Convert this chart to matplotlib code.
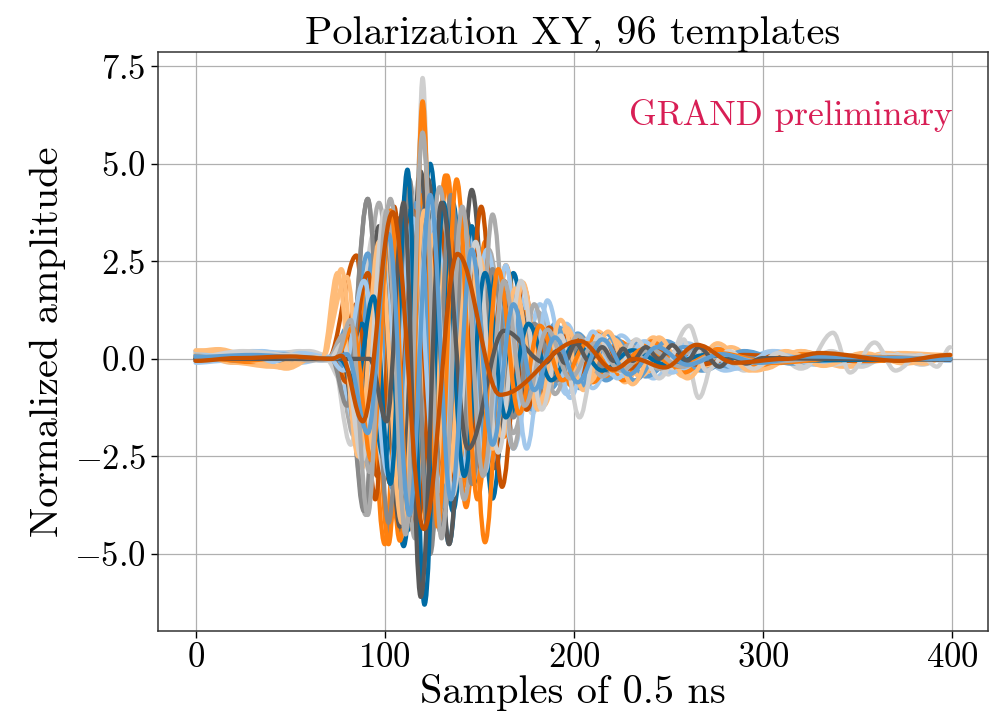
import matplotlib
matplotlib.use("Agg")
import matplotlib.pyplot as plt
from matplotlib.path import Path
from matplotlib.patches import PathPatch

plt.rcParams.update({
    "font.family": "serif",
    "font.serif": ["cmr10"],
    "mathtext.fontset": "cm",
    "axes.formatter.use_mathtext": True,
    "axes.unicode_minus": True,
})

colors = ["#006BA4", "#FF800E", "#ABABAB", "#595959", "#5F9ED1",
          "#C85200", "#898989", "#A2C8EC", "#FFBC79", "#CFCFCF"]

title = "Polarization XY, 96 templates"
xlabel = "Samples of 0.5 ns"
ylabel = "Normalized amplitude"
watermark = "GRAND preliminary"
xticks = [0, 100, 200, 300, 400]
yticks = [-5.0, -2.5, 0.0, 2.5, 5.0, 7.5]

# (sample, amplitude) turning points, one list per template
tpl_00 = [(0,0.02),(30,-0.04),(60,0.03),(78,0),(88,-1.2),(100,2.8),(112,-4.4),(124,5.0),(136,-3.9),(148,2.6),(160,-1.6),(172,0.9),(185,-0.7),(199,0.6),(214,-0.5),(232,0.35),(255,-0.2),(285,0.1),(340,0),(399,0.02)]
tpl_01 = [(0,0.08),(20,0.1),(45,-0.06),(70,0.02),(78,-0.3),(89,2.0),(100,-4.75),(111,4.2),(122,-3.6),(133,4.7),(144,-3.3),(155,2.2),(166,-1.3),(178,0.8),(190,-0.6),(203,0.6),(217,-0.5),(232,0.45),(250,-0.35),(270,0.25),(300,-0.12),(350,0.06),(399,0)]
tpl_02 = [(0,0),(35,0.06),(65,-0.03),(74,0),(84,-2.0),(97,4.0),(110,-4.3),(123,3.8),(136,-3.0),(149,2.2),(162,-1.4),(175,0.8),(189,-0.5),(204,0.35),(220,-0.25),(240,0.15),(265,-0.1),(300,0.05),(399,0)]
tpl_03 = [(0,0),(88,0),(94,0.4),(104,-2.4),(117,4.2),(130,-4.4),(143,3.6),(156,-2.4),(169,1.4),(182,-0.8),(196,0.45),(211,-0.3),(228,0.2),(250,-0.1),(280,0.05),(399,0)]
tpl_04 = [(0,-0.05),(25,0.12),(50,0.05),(72,0),(80,0.8),(91,-2.6),(103,3.8),(115,-4.4),(127,3.9),(139,-3.0),(151,2.2),(163,-1.5),(175,0.9),(188,-0.75),(202,0.65),(217,-0.55),(234,0.4),(255,-0.3),(285,0.15),(330,-0.08),(399,0.03)]
tpl_05 = [(0,0),(40,0.03),(70,0),(85,2.65),(95,-3.6),(105,3.9),(115,-4.4),(125,4.0),(135,-3.4),(145,2.8),(155,-2.0),(166,1.3),(177,-0.8),(189,0.5),(202,-0.35),(216,0.3),(232,-0.2),(252,0.15),(280,-0.1),(320,0.05),(399,0)]
tpl_06 = [(0,0.03),(30,-0.08),(60,0.04),(72,0),(80,-1.0),(91,4.1),(102,-4.5),(113,4.6),(124,-4.8),(135,3.5),(146,-2.3),(157,1.4),(168,-0.8),(180,0.55),(193,-0.4),(207,0.3),(223,-0.2),(242,0.15),(265,-0.1),(300,0.06),(399,0)]
tpl_07 = [(0,0.15),(15,0.1),(35,0.2),(55,-0.1),(72,0.05),(80,-0.6),(92,1.6),(105,-2.8),(118,3.8),(131,-3.6),(144,3.2),(157,-2.6),(170,1.8),(183,-1.2),(196,0.9),(210,-0.75),(225,0.6),(242,-0.5),(260,0.4),(280,-0.3),(305,0.2),(335,-0.15),(365,0.1),(399,-0.05)]
tpl_08 = [(0,0.2),(12,0.25),(30,0.05),(48,-0.25),(65,0.1),(68,0.08),(77,2.3),(88,-2.8),(99,3.4),(110,-3.9),(121,3.2),(132,-3.0),(143,2.5),(154,-2.0),(165,1.5),(176,-1.1),(188,0.8),(200,-0.75),(213,0.7),(227,-0.6),(242,0.55),(258,-0.45),(276,0.35),(296,-0.3),(320,0.2),(346,-0.2),(372,0.15),(399,0.1)]
tpl_09 = [(0,0.1),(20,-0.1),(40,0.15),(60,0.2),(72,0.05),(82,-2.2),(94,3.2),(106,-4.0),(118,4.6),(130,-4.0),(142,3.3),(154,-2.6),(166,2.0),(178,-1.4),(190,0.9),(202,-0.7),(214,0.6),(226,-0.5),(238,0.45),(250,-0.4),(258,0.5),(266,-1.0),(276,0.3),(290,-0.3),(305,0.2),(320,-0.25),(336,0.2),(352,-0.2),(368,0.15),(384,-0.15),(399,0.1)]
tpl_10 = [(0,0),(50,0.03),(76,0),(86,-0.9),(98,2.6),(110,-4.8),(122,4.6),(134,-4.74),(146,3.4),(157,-3.58),(168,2.2),(179,-1.3),(190,0.8),(202,-0.55),(215,0.4),(229,-0.3),(245,0.2),(262,-0.15),(285,0.1),(320,-0.05),(399,0)]
tpl_11 = [(0,-0.05),(30,0.05),(60,-0.03),(76,0),(84,-0.8),(92,2.2),(102,-4.75),(112,4.4),(122,-4.2),(132,4.7),(143,-3.8),(153,3.0),(163,-2.0),(174,1.2),(185,-0.7),(197,0.65),(210,-0.6),(224,0.45),(240,-0.3),(260,0.15),(290,-0.1),(340,0.05),(399,0)]
tpl_12 = [(0,0.05),(40,-0.05),(70,0),(78,0.6),(90,-4.0),(103,4.1),(116,-4.6),(129,4.4),(142,-3.6),(155,2.8),(168,-1.9),(181,1.2),(194,-0.7),(208,0.45),(224,-0.3),(242,0.2),(264,-0.12),(295,0.06),(399,0)]
tpl_13 = [(0,0),(80,0),(90,-1.0),(101,3.0),(112,-4.2),(123,4.6),(134,-4.75),(146,4.33),(158,-2.8),(170,1.5),(182,-0.9),(195,0.6),(209,-0.45),(224,0.35),(241,-0.25),(260,0.15),(285,-0.1),(320,0.05),(399,0)]
tpl_14 = [(0,0.1),(20,0.15),(40,-0.05),(60,0.08),(74,0),(83,-1.2),(95,2.8),(107,-3.8),(119,4.4),(131,-4.0),(143,3.2),(155,-2.4),(167,1.6),(179,-1.1),(192,0.8),(206,-0.7),(221,0.55),(238,-0.45),(258,0.3),(282,-0.2),(310,0.12),(350,-0.06),(399,0)]
tpl_15 = [(0,0),(70,0),(76,-0.2),(85,1.4),(96,-3.0),(107,3.6),(118,-4.0),(129,3.4),(140,-3.0),(151,3.9),(162,-3.28),(173,1.9),(184,-1.0),(196,0.6),(209,-0.4),(223,0.3),(240,-0.2),(260,0.12),(290,-0.08),(399,0)]
tpl_16 = [(0,-0.05),(30,0.05),(60,0),(72,0),(79,0.5),(89,-3.9),(100,3.6),(111,-3.9),(120,6.2),(129,-4.3),(140,3.2),(151,-2.4),(162,1.5),(174,-0.9),(186,0.55),(199,-0.4),(213,0.3),(229,-0.22),(247,0.15),(268,-0.1),(295,0.06),(340,-0.03),(399,0)]
tpl_17 = [(0,-0.1),(15,-0.05),(30,0.2),(50,0.15),(68,-0.05),(74,0.1),(84,-1.6),(98,2.6),(112,-3.4),(126,3.6),(140,-3.0),(154,2.8),(168,-2.3),(182,1.4),(196,-0.9),(210,0.6),(225,-0.45),(241,0.35),(258,-0.3),(276,0.25),(296,-0.2),(320,0.15),(350,-0.1),(380,0.08),(399,0)]
tpl_18 = [(0,0.15),(20,-0.1),(40,-0.2),(58,0.05),(66,0.0),(80,2.1),(90,-2.6),(102,3.4),(114,-3.6),(126,3.2),(138,-3.0),(150,2.6),(162,-2.0),(173,1.96),(184,-1.2),(196,0.8),(208,-0.6),(221,0.5),(235,-0.45),(250,0.4),(266,-0.3),(283,0.3),(301,-0.25),(320,0.2),(342,-0.2),(365,0.15),(385,-0.12),(399,0.1)]
tpl_19 = [(0,0.2),(15,0.15),(35,-0.05),(55,0.2),(68,0.05),(78,-0.6),(89,2.0),(100,-3.0),(108,3.0),(114,-3.4),(120,7.2),(127,-4.2),(138,3.4),(149,-2.7),(160,1.9),(171,-1.3),(182,0.9),(194,-0.6),(207,0.5),(221,-0.4),(236,0.35),(252,-0.3),(270,0.25),(290,-0.2),(312,0.18),(336,-0.15),(362,0.1),(399,0.05)]
tpl_20 = [(0,0),(60,0),(80,0),(88,0.9),(100,-2.6),(112,3.8),(124,-4.4),(136,4.0),(147,-3.2),(158,2.2),(169,-1.4),(181,0.8),(193,-0.5),(206,0.4),(220,-0.3),(236,0.22),(254,-0.15),(276,0.1),(310,-0.05),(399,0)]
tpl_21 = [(0,0.05),(30,-0.08),(60,0.05),(74,0),(85,-1.0),(97,2.8),(108,-4.66),(120,4.2),(131,-4.0),(142,3.6),(153,-4.7),(164,2.4),(175,-1.3),(187,0.8),(199,-0.7),(212,0.65),(226,-0.55),(241,0.45),(258,-0.35),(276,0.25),(296,-0.18),(320,0.12),(350,-0.06),(399,0)]
tpl_22 = [(0,-0.05),(30,0.08),(60,-0.03),(72,0),(82,0.8),(92,-2.9),(102,3.6),(112,-4.2),(120,6.0),(129,-4.4),(138,3.0),(147,-3.1),(157,3.7),(168,-2.3),(179,1.4),(190,-0.9),(202,0.6),(215,-0.45),(229,0.35),(245,-0.25),(263,0.18),(285,-0.12),(320,0.06),(399,0)]
tpl_23 = [(0,0),(70,0),(77,0.2),(86,-2.2),(97,3.4),(108,-4.3),(119,4.8),(130,-4.5),(141,3.6),(152,-2.6),(163,1.7),(175,-1.0),(187,0.65),(200,-0.45),(214,0.3),(230,-0.22),(248,0.15),(270,-0.1),(300,0.05),(399,0)]
tpl_24 = [(0,0.08),(25,-0.05),(45,0.12),(65,-0.02),(74,0),(80,-0.3),(91,2.7),(104,-3.3),(117,4.0),(130,-3.8),(142,2.8),(154,-2.4),(166,1.8),(178,-1.3),(190,0.9),(203,-0.75),(217,0.65),(232,-0.55),(249,0.45),(268,-0.3),(290,0.2),(315,-0.12),(350,0.06),(399,0)]
tpl_25 = [(0,0),(50,0.02),(72,0),(80,-0.6),(91,2.2),(103,-3.2),(115,3.8),(127,-4.1),(139,3.4),(151,-2.8),(163,2.0),(175,-1.3),(187,0.8),(200,-0.5),(214,0.35),(229,-0.25),(246,0.2),(266,-0.15),(290,0.1),(330,-0.05),(399,0)]
tpl_26 = [(0,0.05),(30,-0.05),(60,0.05),(72,0),(80,-1.2),(91,4.1),(102,-4.2),(113,4.3),(124,-5.0),(135,4.2),(146,-3.2),(157,2.3),(168,-1.5),(179,0.9),(191,-0.55),(204,0.4),(218,-0.3),(234,0.2),(252,-0.13),(276,0.08),(310,-0.04),(399,0)]
tpl_27 = [(0,0.2),(18,0.1),(38,-0.1),(56,0.15),(70,0.05),(78,-0.3),(89,2.0),(102,-3.0),(115,3.6),(128,-3.4),(141,3.3),(153,-2.9),(164,2.4),(175,-2.3),(186,1.5),(198,-1.0),(210,0.7),(223,-0.5),(237,0.45),(252,-0.35),(268,0.3),(286,-0.25),(306,0.2),(328,-0.15),(352,0.12),(376,-0.1),(399,0.05)]
tpl_28 = [(0,0.22),(12,0.2),(28,-0.05),(45,-0.22),(62,0.05),(67,0.02),(75,2.2),(86,-2.5),(97,3.0),(109,-4.2),(121,3.8),(133,-3.2),(145,2.8),(157,-2.3),(169,1.8),(181,-1.3),(193,1.0),(205,-0.8),(218,0.7),(231,-0.65),(245,0.55),(260,-0.5),(276,0.4),(293,-0.3),(312,0.2),(332,-0.18),(353,0.15),(375,-0.12),(399,0.08)]
tpl_29 = [(0,0.05),(25,0.2),(50,0.1),(70,-0.05),(78,0.4),(88,-2.6),(100,3.8),(112,-3.6),(124,4.0),(136,-3.5),(148,3.0),(160,-2.4),(172,2.0),(183,-1.3),(193,0.6),(203,-1.5),(213,0.6),(223,-0.3),(233,0.5),(245,-0.5),(261,0.85),(270,-0.3),(282,0.2),(295,-0.25),(308,0.15),(322,-0.2),(337,0.67),(346,-0.35),(359,0.42),(370,-0.3),(383,0.1),(392,-0.2),(399,0.3)]
tpl_30 = [(0,0),(40,0.02),(76,0),(85,-0.6),(94,1.6),(103,-3.2),(112,4.85),(121,-6.3),(131,4.0),(142,-3.0),(153,2.2),(164,-1.5),(176,0.9),(188,-0.55),(201,0.4),(215,-0.3),(231,0.22),(249,-0.15),(270,0.1),(300,-0.05),(399,0)]
tpl_31 = [(0,0.05),(25,-0.05),(50,0.05),(74,0),(83,0.8),(93,-2.6),(103,3.8),(113,-4.0),(120,6.6),(128,-4.3),(138,4.6),(149,-3.6),(160,2.3),(171,-1.4),(182,0.85),(194,-0.55),(207,0.4),(221,-0.3),(237,0.25),(255,-0.2),(276,0.15),(305,-0.1),(350,0.05),(399,0)]
tpl_32 = [(0,0),(35,0.05),(65,-0.03),(74,0),(82,1.0),(91,-4.0),(101,3.8),(111,-4.5),(120,5.8),(130,-4.6),(141,3.9),(152,-3.0),(163,2.0),(174,-1.2),(186,0.75),(198,-0.5),(211,0.4),(225,-0.3),(240,0.25),(257,-0.2),(276,0.12),(300,-0.08),(340,0.04),(399,0)]
tpl_33 = [(0,0),(92,0),(101,-1.6),(110,4.0),(119,-6.1),(130,4.0),(144,-2.3),(163,0.72),(185,-0.1),(191,0.2),(195,-0.1),(201,0.4),(208,-0.05),(215,0.3),(221,-0.05),(226,0.26),(231,-0.05),(238,0.3),(245,0.0),(252,0.35),(260,-0.05),(266,0.3),(277,-0.2),(284,0.05),(291,-0.12),(300,0.02),(340,0),(399,-0.02)]
tpl_34 = [(0,0.05),(30,0.1),(55,0.05),(72,0),(80,0.12),(91,-1.9),(102,3.2),(113,-4.0),(124,4.2),(135,-3.6),(146,2.8),(157,-2.2),(168,1.4),(179,-0.8),(190,0.55),(202,-0.6),(215,0.5),(229,-0.4),(244,0.3),(260,-0.15),(278,0.12),(298,-0.1),(322,0.06),(399,0)]
tpl_35 = [(0,-0.05),(22,0.02),(50,0.06),(72,0.0),(77,0.08),(88.4,-1.6),(104.2,3.76),(120.7,-4.36),(138.4,2.69),(161,-0.92),(203,0.46),(221,-0.27),(232,0.0),(248,-0.22),(265,0.36),(285,-0.1),(312,0.0),(330,0.15),(372,-0.05),(399,0.1)]

templates = [tpl_00, tpl_01, tpl_02, tpl_03, tpl_04, tpl_05, tpl_06, tpl_07, tpl_08, tpl_09,
             tpl_10, tpl_11, tpl_12, tpl_13, tpl_14, tpl_15, tpl_16, tpl_17, tpl_18, tpl_19,
             tpl_20, tpl_21, tpl_22, tpl_23, tpl_24, tpl_25, tpl_26, tpl_27, tpl_28, tpl_29,
             tpl_30, tpl_31, tpl_32, tpl_33, tpl_34, tpl_35]


def smooth_path(points, k=0.36):
    """Smooth line style: cubic segments through the read turning points,
    flat tangent at every turning point."""
    verts = [points[0]]
    codes = [Path.MOVETO]
    for (xa, ya), (xb, yb) in zip(points[:-1], points[1:]):
        d = xb - xa
        verts += [(xa + k * d, ya), (xb - k * d, yb), (xb, yb)]
        codes += [Path.CURVE4] * 3
    return Path(verts, codes)


fig = plt.figure(figsize=(9.93, 7.27), dpi=100)
ax = fig.add_axes([0.159, 0.132, 0.836, 0.797])

for i, tpl in enumerate(templates):
    patch = PathPatch(smooth_path(tpl), fill=False, edgecolor=colors[i % len(colors)],
                      lw=3.1, capstyle="round", joinstyle="round")
    ax.add_patch(patch)
ax.autoscale_view()

ax.grid(True, color="#b0b0b0", lw=0.9)
ax.set_axisbelow(True)
ax.set_xticks(xticks)
ax.set_yticks(yticks)
ax.tick_params(labelsize=25, length=5, width=1)
ax.set_xlabel(xlabel, fontsize=29, labelpad=0)
ax.set_ylabel(ylabel, fontsize=29, labelpad=6)
ax.set_title(title, fontsize=29, pad=5)
for s in ax.spines.values():
    s.set_color("#333333")
    s.set_linewidth(1.1)
ax.text(0.957, 0.874, watermark, transform=ax.transAxes, ha="right", va="baseline",
        fontsize=25.5, color="#D81E55")

fig.savefig("out.png", dpi=100)
